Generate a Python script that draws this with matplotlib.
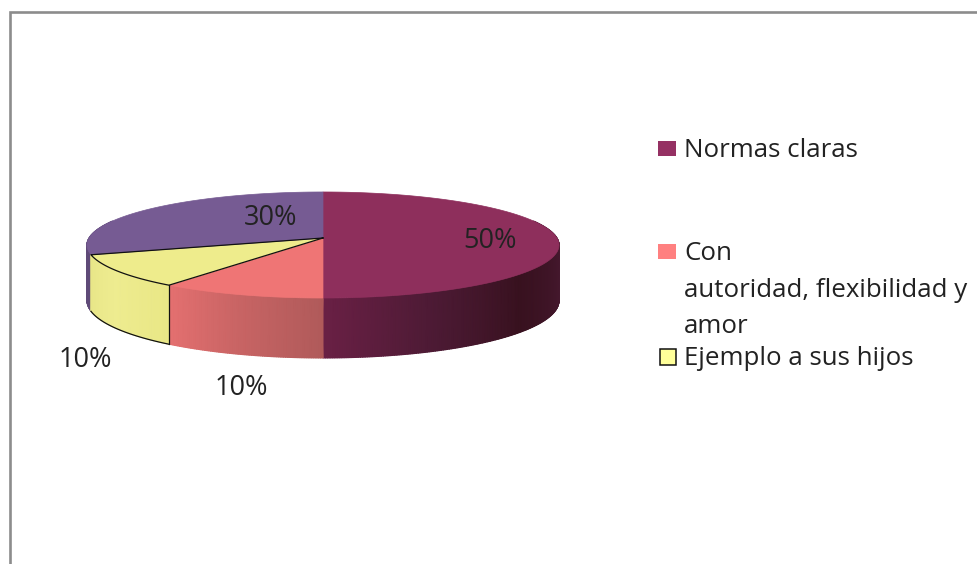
import numpy as np
import matplotlib
matplotlib.use('Agg')
import matplotlib.pyplot as plt
from matplotlib.colors import to_rgb
from matplotlib.patches import Polygon, Rectangle

# chart data
categories = ['Normas claras', 'Con\nautoridad, flexibilidad y\namor', 'Ejemplo a sus hijos', 'Otros']
values = [50, 10, 10, 30]
pct_labels = ['50%', '10%', '10%', '30%']
top_colors = ['#8e2f5c', '#ef7575', '#eeec8c', '#765b93']
legend_colors = ['#953163', '#ff8080', '#ffff99']

# side shading: angle from 12 o'clock -> colour
side_stops = [
    [(70, '#45182e'), (100, '#45182e'), (130, '#38111f'), (155, '#4c1a34'), (180, '#6a2045')],
    [(180, '#b05a5a'), (198, '#c86464'), (216, '#e57070')],
    [(216, '#e9e786'), (235, '#eeec90'), (252, '#e8e688')],
    [(252, '#5f4a78'), (290, '#5f4a78')],
]

plt.rcParams['font.family'] = ['Open Sans', 'DejaVu Sans']
fig = plt.figure(figsize=(9.77, 5.64), dpi=100)
ax = fig.add_axes([0, 0, 1, 1])
ax.set_xlim(0, 977)
ax.set_ylim(564, 0)
ax.axis('off')

# frame, only top and left are in the crop
ax.plot([10, 10, 977], [564, 11.5, 11.5], color='#8c8c8c', lw=1.9, solid_joinstyle='miter')

# pie in perspective
cx, cy = 323, 238
R, D, k = 234, 52.1, 0.132


def project(theta_deg, radius=1.0):
    t = np.radians(theta_deg)
    u = radius * np.sin(t)
    v = -radius * np.cos(t)
    w = 1 - k * v
    return cx + R * u / w, cy + D * v / w


def depth(theta_deg):
    return 55 + 5 * (-np.cos(np.radians(theta_deg)))


edges = np.concatenate([[0], np.cumsum(values)]) * 360 / sum(values)

# side walls, back slice first so the yellow wall sits over the purple one
for order, i in enumerate([3, 0, 1, 2]):
    stops = side_stops[i]
    a = max(edges[i], stops[0][0])
    b = min(edges[i + 1], stops[-1][0])
    th = np.linspace(a, b, int(b - a) * 2 + 1)
    x, y = project(th)
    d = depth(th)
    rgb = np.array([to_rgb(c) for _, c in stops])
    pos = [p for p, _ in stops]
    col = np.column_stack([np.interp(th, pos, rgb[:, j]) for j in range(3)])
    X = np.vstack([x, x])
    Y = np.vstack([y, y + d])
    C = np.stack([col, col])
    ax.pcolormesh(X, Y, C, shading='gouraud', zorder=2 + 0.1 * order, antialiased=True)

# top faces
for i in range(len(values)):
    th = np.linspace(edges[i], edges[i + 1], 80)
    x, y = project(th)
    ax.add_patch(Polygon(np.column_stack([np.r_[cx, x], np.r_[cy, y]]),
                         facecolor=top_colors[i], edgecolor=top_colors[i], lw=0.5, zorder=3))

# black outline of the yellow slice
th = np.linspace(edges[2], edges[3], 40)
x, y = project(th)
ax.plot(np.r_[cx, x, cx], np.r_[cy, y, cy], color='#111111', lw=0.9, zorder=4)
ax.plot(x, y + depth(th), color='#111111', lw=0.9, zorder=4)
ax.plot([x[0], x[0]], [y[0], y[0] + depth(th[0])], color='#111111', lw=0.9, zorder=4)

# data labels (baseline anchored)
label_pos = [(490, 248), (241, 395), (85, 367), (271, 225)]
for txt, (lx, ly) in zip(pct_labels, label_pos):
    ax.text(lx, ly, txt, fontsize=19.5, color='#222222', ha='center', va='baseline', zorder=5)

# legend
marker_boxes = [(658, 141, 18, 15), (658, 244, 18, 15), (660, 349, 16, 16)]
text_pos = [157, 333, 365]
for i, (mx, my, mw, mh) in enumerate(marker_boxes):
    edge = '#111111' if i == 2 else legend_colors[i]
    ax.add_patch(Rectangle((mx, my), mw, mh, facecolor=legend_colors[i], edgecolor=edge,
                           lw=1.1 if i == 2 else 0))
    ax.text(684, text_pos[i], categories[i], fontsize=18.6, color='#222222', ha='left',
            va='baseline', linespacing=1.6)

fig.savefig('out.png', dpi=100)
